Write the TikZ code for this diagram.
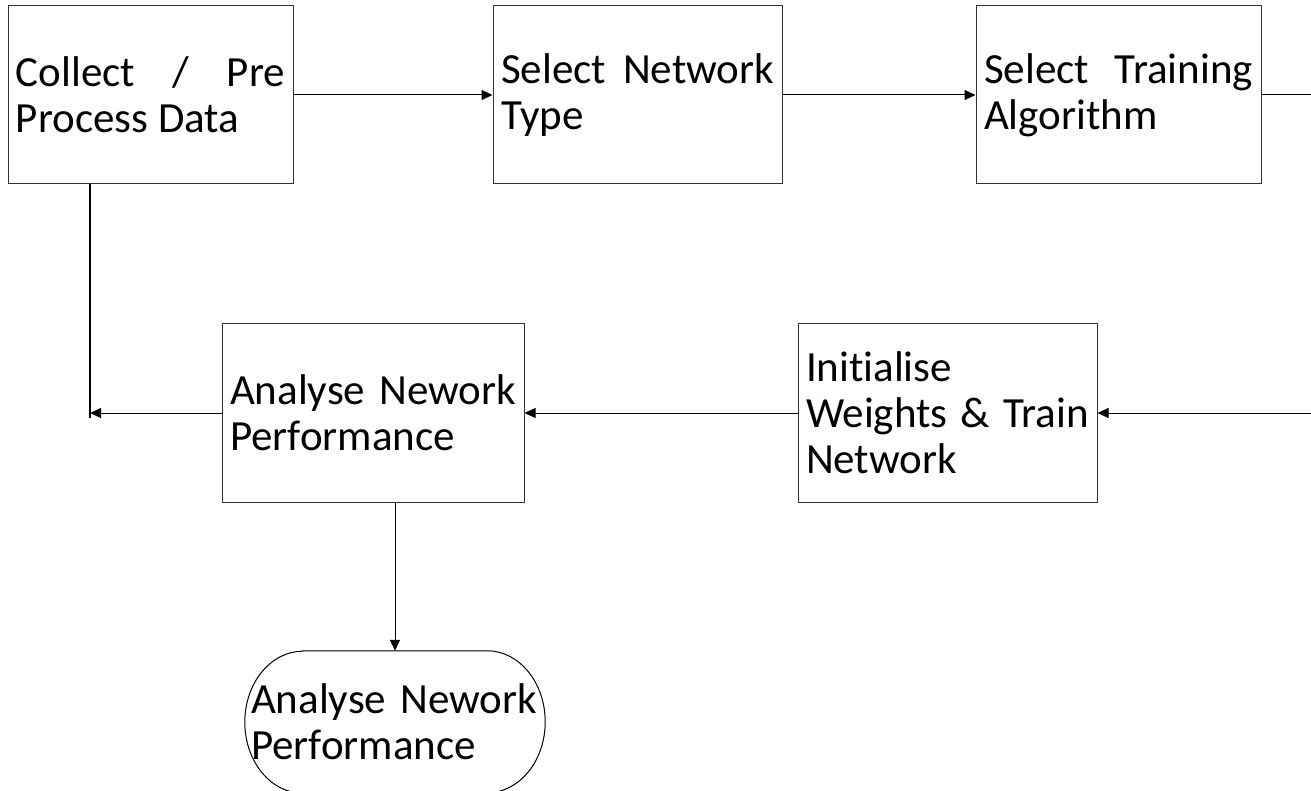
\documentclass[tikz,border=0pt]{standalone}
\usepackage{fontspec}
\setmainfont{Carlito}[Ligatures=NoCommon]
\usetikzlibrary{arrows.meta}

\begin{document}
\begin{tikzpicture}[x=1pt, y=-1pt, >={Triangle[length=11pt,width=10pt]},
font=\fontsize{43}{46}\selectfont,
box/.style={draw=black!80, line width=1pt, inner xsep=8pt, minimum height=178pt,
text width=#1, align=justify},
result/.style={inner xsep=6pt, minimum width=300pt, minimum height=142pt,
text width=288pt, align=left}]
\useasboundingbox[fill=white] (0,0) rectangle (1311,791);
% top row
\node[box=269pt] (collect) at (150.5,95) {Collect / Pre\linebreak Process Data};
\node[box=273pt] (network) at (637.5,95) {Select Network\linebreak Type};
\node[box=269pt] (training) at (1118.5,95) {Select Training\linebreak Algorithm};
% middle row
\node[box=283pt] (init) at (947.5,413) {Initialise\newline Weights \& Train\linebreak Network};
\node[box=286pt] (analyse) at (373,413) {Analyse Nework\linebreak Performance};
\node[result] (perf) at (395,722) {Analyse Nework\\Performance};
\draw[line width=1pt] ([xshift=58pt]perf.north west) -- ([xshift=-58pt]perf.north east)
arc[start angle=90, end angle=-90, x radius=58pt, y radius=71pt]
-- ([xshift=58pt]perf.south west)
arc[start angle=270, end angle=90, x radius=58pt, y radius=71pt] -- cycle;
\coordinate (out) at (1311,95);
\coordinate (in) at (1311,413);
\coordinate (turn) at (90,418);
\path[->, line width=1pt]
(collect) edge (network)
(network) edge (training)
(in) edge (init)
(init) edge (analyse)
(analyse.west) edge (turn |- analyse.west)
(analyse.south -| perf.north) edge (perf.north);
\draw[line width=1pt] (training) -- (out);
\draw[line width=2pt] (turn |- collect.south) -- (turn);
\end{tikzpicture}
\end{document}
